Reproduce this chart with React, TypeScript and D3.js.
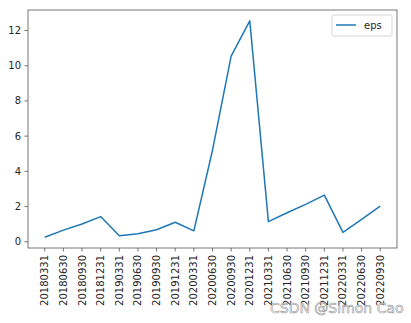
import React from "react";
import * as d3 from "d3";

const categories = [
  "20180331", "20180630", "20180930", "20181231",
  "20190331", "20190630", "20190930", "20191231",
  "20200331", "20200630", "20200930", "20201231",
  "20210331", "20210630", "20210930", "20211231",
  "20220331", "20220630", "20220930",
];
const eps = [
  0.26, 0.66, 1.01, 1.43,
  0.34, 0.45, 0.68, 1.11,
  0.62, 5.2, 10.55, 12.55,
  1.14, 1.65, 2.12, 2.65,
  0.53, 1.27, 2.03,
];
const yTicks = [0, 2, 4, 6, 8, 10, 12];
const seriesName = "eps";

const W = 411, H = 323;
const L = 28, R = 397, T = 10, B = 248;
const FONT = "DejaVu Sans, sans-serif";
const TXT = "#262626";
const SPINE = "#555";

export default function App() {
  const n = categories.length;
  const xPad = (n - 1) * 0.05;
  const x = d3.scaleLinear().domain([-xPad, n - 1 + xPad]).range([L, R]);
  const yMin = d3.min(eps)!, yMax = d3.max(eps)!;
  const yPad = (yMax - yMin) * 0.05;
  const y = d3.scaleLinear().domain([yMin - yPad, yMax + yPad]).range([B, T]);
  const line = d3.line<number>().x((_, i) => x(i)).y((d) => y(d));

  return (
    <svg width={W} height={H} style={{ position: "absolute", left: 0, top: 0, background: "#fff" }}>
      <rect x={0} y={0} width={W} height={H} fill="#fff" />
      {/* y ticks */}
      {yTicks.map((t) => (
        <g key={t}>
          <line x1={L - 3.5} x2={L} y1={y(t)} y2={y(t)} stroke={SPINE} strokeWidth={0.8} />
          <text x={L - 7} y={y(t)} dy="0.35em" textAnchor="end" fontFamily={FONT} fontSize={10} fill={TXT}>
            {t}
          </text>
        </g>
      ))}
      {/* x ticks */}
      {categories.map((c, i) => (
        <g key={c}>
          <line x1={x(i)} x2={x(i)} y1={B} y2={B + 3.5} stroke={SPINE} strokeWidth={0.8} />
          <text
            transform={`translate(${x(i)},${B + 7}) rotate(-90)`}
            dy="0.35em"
            textAnchor="end"
            fontFamily={FONT}
            fontSize={10}
            fill={TXT}
          >
            {c}
          </text>
        </g>
      ))}
      <path d={line(eps) || ""} fill="none" stroke="#1f77b4" strokeWidth={1.5} strokeLinejoin="round" />
      <rect x={L} y={T} width={R - L} height={B - T} fill="none" stroke={SPINE} strokeWidth={0.8} />
      {/* legend */}
      <rect x={332} y={15} width={60} height={21} rx={2} fill="#fff" fillOpacity={0.8} stroke="#ccc" strokeWidth={0.8} />
      <line x1={336} x2={356} y1={25} y2={25} stroke="#1f77b4" strokeWidth={1.5} />
      <text x={364} y={25} dy="0.35em" fontFamily={FONT} fontSize={10} fill={TXT}>
        {seriesName}
      </text>
      {/* watermark */}
      <text x={270} y={313} fontFamily={FONT} fontSize={14} fill="#fff" fillOpacity={0.7} stroke="#999" strokeWidth={0.6}>
        CSDN @Simon Cao
      </text>
    </svg>
  );
}
